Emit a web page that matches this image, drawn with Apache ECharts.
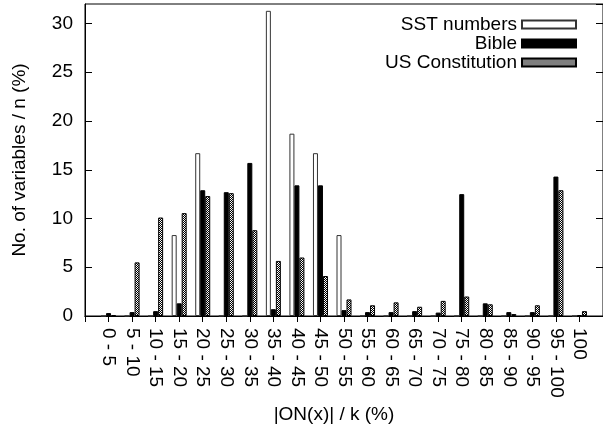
<!DOCTYPE html>
<html lang="en">
  <head>
    <meta charset="UTF-8" />
    <title>ON(x) histogram</title>
    <script src="https://cdn.jsdelivr.net/npm/echarts@6/dist/echarts.min.js"></script>
    <style>
      html, body { margin: 0; padding: 0; background: #fff; }
      #chart { width: 603px; height: 433px; }
    </style>
  </head>
  <body>
    <div id="chart"></div>
    <script type="text/javascript">
      // 数据
      const categories = ["0 - 5", "5 - 10", "10 - 15", "15 - 20", "20 - 25", "25 - 30", "30 - 35",
        "35 - 40", "40 - 45", "45 - 50", "50 - 55", "55 - 60", "60 - 65", "65 - 70", "70 - 75",
        "75 - 80", "80 - 85", "85 - 90", "90 - 95", "95 - 100", "100"];
      const sstValues = [0, 0, 0, 8.3, 16.7, 0, 0, 31.3, 18.7, 16.7, 8.3, 0, 0, 0, 0, 0, 0, 0, 0, 0, 0];
      const bibleValues = [0.3, 0.4, 0.5, 1.3, 12.9, 12.7, 15.7, 0.7, 13.4, 13.4, 0.6, 0.4, 0.4, 0.5, 0.35,
        12.5, 1.3, 0.4, 0.4, 14.3, 0.1];
      const usValues = [0.1, 5.5, 10.1, 10.55, 12.3, 12.6, 8.8, 5.65, 6.0, 4.1, 1.7, 1.1, 1.4, 0.95, 1.55,
        2.0, 1.2, 0.2, 1.1, 12.9, 0.5];
      const yTicks = [0, 5, 10, 15, 20, 25, 30];

      // 两端各留一个空位 (x 范围 -1 .. 21)
      const pad = (arr, fill) => [fill].concat(arr, [fill]);
      const xData = pad(categories, "");

      // 网格纹理
      const patternCanvas = document.createElement("canvas");
      patternCanvas.width = 2;
      patternCanvas.height = 2;
      const pctx = patternCanvas.getContext("2d");
      pctx.fillStyle = "#000";
      pctx.fillRect(0, 0, 2, 2);
      pctx.fillStyle = "#fff";
      pctx.fillRect(0, 0, 1, 1);
      pctx.fillRect(1, 1, 1, 1);
      const hatch = { image: patternCanvas, repeat: "repeat" };

      const myChart = echarts.init(document.getElementById("chart"));
      const barWidth = 5;
      const fontSize = 19;
      const options = {
        animation: false,
        textStyle: { fontFamily: "Liberation Sans", color: "#000" },
        grid: {
          left: 85,
          right: -1,
          top: 4,
          bottom: 117,
          show: true,
          borderColor: "#000",
          borderWidth: 1,
        },
        legend: {
          orient: "vertical",
          align: "right",
          right: 21,
          top: 10,
          icon: "rect",
          itemWidth: 54,
          itemHeight: 8,
          itemGap: 0,
          selectedMode: false,
          textStyle: { fontSize: fontSize, color: "#000", width: 150, align: "right", lineHeight: 19 },
          data: ["SST numbers", "Bible", "US Constitution"],
        },
        xAxis: [
          {
            type: "category",
            data: xData,
            boundaryGap: false,
            position: "bottom",
            axisLine: { lineStyle: { color: "#000" } },
            axisTick: { show: false },
            axisLabel: {
              interval: 0,
              rotate: -90,
              fontSize: fontSize,
              margin: 12,
              color: "#000",
            },
            name: "|ON(x)| / k (%)",
            nameLocation: "middle",
            nameGap: 88,
            nameTextStyle: { fontSize: fontSize, color: "#000", padding: [0, 20, 0, 0] },
          },
          {
            type: "category",
            data: xData,
            boundaryGap: false,
            position: "top",
            axisLine: { lineStyle: { color: "#000" } },
            axisTick: { show: true, inside: true, length: 6, interval: 0, lineStyle: { color: "#000" } },
            axisLabel: { show: false },
          },
        ],
        yAxis: [
          {
            type: "value",
            min: 0,
            max: 32,
            interval: 5,
            position: "left",
            splitLine: { show: false },
            axisLine: { show: true, lineStyle: { color: "#000" } },
            axisTick: { show: true, inside: true, length: 7, lineStyle: { color: "#000" } },
            axisLabel: {
              fontSize: fontSize,
              margin: 12,
              color: "#000",
              showMaxLabel: false,
              formatter: (v) => (yTicks.indexOf(v) >= 0 ? String(v) : ""),
            },
            name: "No. of variables / n (%)",
            nameLocation: "middle",
            nameGap: 56,
            nameTextStyle: { fontSize: fontSize, color: "#000" },
          },
          {
            type: "value",
            min: 0,
            max: 32,
            interval: 5,
            position: "right",
            splitLine: { show: false },
            axisLine: { show: true, lineStyle: { color: "#000" } },
            axisTick: { show: true, inside: true, length: 7, lineStyle: { color: "#000" } },
            axisLabel: { show: false },
          },
        ],
        series: [
          {
            name: "SST numbers",
            type: "bar",
            barWidth: barWidth,
            barGap: "0%",
            itemStyle: { color: "#fff", borderColor: "#333", borderWidth: 1 },
            data: pad(sstValues, "-"),
          },
          {
            name: "Bible",
            type: "bar",
            barWidth: barWidth,
            barGap: "0%",
            itemStyle: { color: "#000", borderColor: "#000", borderWidth: 1 },
            data: pad(bibleValues, "-"),
          },
          {
            name: "US Constitution",
            type: "bar",
            barWidth: barWidth,
            barGap: "0%",
            itemStyle: { color: hatch, borderColor: "#000", borderWidth: 1 },
            data: pad(usValues, "-"),
          },
        ],
      };
      myChart.setOption(options);
    </script>
  </body>
</html>
